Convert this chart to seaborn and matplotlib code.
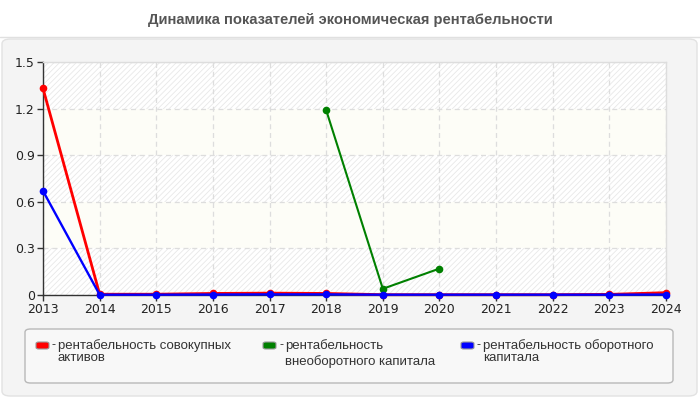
import matplotlib
matplotlib.use("Agg")
import matplotlib.pyplot as plt
import seaborn as sns
import numpy as np
import pandas as pd
from matplotlib.patches import FancyBboxPatch
from matplotlib.lines import Line2D

years = [2013, 2014, 2015, 2016, 2017, 2018, 2019, 2020, 2021, 2022, 2023, 2024]
red_vals = [1.33, 0.005, 0.005, 0.01, 0.012, 0.01, 0.002, 0.002, 0.002, 0.002, 0.004, 0.015]
green_vals = [np.nan, np.nan, np.nan, np.nan, np.nan, 1.19, 0.04, 0.17, np.nan, np.nan, np.nan, np.nan]
blue_vals = [0.67, 0.002, 0.002, 0.003, 0.004, 0.004, 0.002, 0.002, 0.002, 0.002, 0.002, 0.003]
series_names = ["рентабельность совокупных\nактивов",
                "рентабельность\nвнеоборотного капитала",
                "рентабельность оборотного\nкапитала"]
series_colors = ["#ff0000", "#008000", "#0000ff"]
y_ticks = [0, 0.3, 0.6, 0.9, 1.2, 1.5]
y_labels = ["0", "0.3", "0.6", "0.9", "1.2", "1.5"]
title = "Динамика показателей экономическая рентабельности"

sns.set_theme(style="white")
plt.rcParams['font.family'] = ['DejaVu Sans']
plt.rcParams['hatch.linewidth'] = 0.6
plt.rcParams['hatch.color'] = '#e6e6e6'

fig = plt.figure(figsize=(7, 4), dpi=100)
fig.patch.set_facecolor("white")

# outer panel
panel = FancyBboxPatch((2/700, 4/400), 695/700, 357/400, transform=fig.transFigure,
                       boxstyle="round,pad=0,rounding_size=0.012", facecolor="#f4f4f4",
                       edgecolor="#e2e2e2", linewidth=1, zorder=-2)
fig.patches.append(panel)
fig.add_artist(Line2D([0, 1], [1 - 37/400, 1 - 37/400], transform=fig.transFigure,
                      color="#e0e0e0", linewidth=1, zorder=-1))
fig.text(0.5, 1 - 20/400, title, ha="center", va="center", fontsize=10.6,
         fontweight="bold", color="#555555", family=["Liberation Sans", "DejaVu Sans"])

ax = fig.add_axes([43/700, 1 - 295/400, (666 - 43)/700, (295 - 62)/400])
ax.set_zorder(1)
ax.set_facecolor("white")
for i in range(5):
    lo, hi = y_ticks[i], y_ticks[i + 1]
    if i % 2 == 0:
        ax.axhspan(lo, hi, facecolor="white", hatch="//////", edgecolor="#e8e8e8", linewidth=0, zorder=0)
    else:
        ax.axhspan(lo, hi, facecolor="#fdfdf7", linewidth=0, zorder=0)

df = pd.DataFrame({"year": years, "r": red_vals, "g": green_vals, "b": blue_vals})
widths = [2.0, 1.5, 1.7]
for col, c, lw in zip(["r", "g", "b"], series_colors, widths):
    sub = df[["year", col]].dropna()
    sns.lineplot(data=sub, x="year", y=col, ax=ax, color=c, linewidth=lw, marker="o",
                 markersize=5.5, markeredgewidth=0, clip_on=False, zorder=3)

ax.set_xlim(2013, 2024)
ax.set_ylim(0, 1.5)
ax.set_xticks(years)
ax.set_xticklabels([str(y) for y in years])
ax.set_yticks(y_ticks)
ax.set_yticklabels(y_labels)
ax.set_xlabel("")
ax.set_ylabel("")
ax.grid(True, linestyle=(0, (4, 3)), color="#dddddd", linewidth=0.9, zorder=1)
ax.set_axisbelow(True)
ax.tick_params(axis="both", which="both", direction="out", length=4, width=1,
               color="#333333", labelsize=9, labelcolor="#222222", pad=2,
               bottom=True, left=True)
for s in ["top", "right"]:
    ax.spines[s].set_color("#dddddd")
    ax.spines[s].set_linewidth(1)
for s in ["left", "bottom"]:
    ax.spines[s].set_color("#333333")
    ax.spines[s].set_linewidth(1)

# legend box
lb = FancyBboxPatch((25/700, 1 - 383/400), (673 - 25)/700, (383 - 329)/400, transform=fig.transFigure,
                    boxstyle="round,pad=0,rounding_size=0.008", facecolor="#f8f8f8",
                    edgecolor="#b8b8b8", linewidth=1, zorder=1)
fig.patches.append(lb)
col_x = [36, 263, 461]
for i, (name, c) in enumerate(zip(series_names, series_colors)):
    x0 = col_x[i]
    sw = FancyBboxPatch((x0/700, 1 - 349/400), 13/700, 7/400, transform=fig.transFigure,
                        boxstyle="round,pad=0,rounding_size=0.004", facecolor=c,
                        edgecolor="#999999", linewidth=0.8, zorder=2)
    fig.patches.append(sw)
    fig.text((x0 + 16)/700, 1 - 345/400, "-", ha="left", va="center", fontsize=9,
             color="#333333", family=["Liberation Sans", "DejaVu Sans"])
    ls = 1.35 if i == 1 else 1.0
    fig.text((x0 + 22)/700, 1 - 339/400, name, ha="left", va="top", fontsize=9.5,
             color="#333333", linespacing=ls,
             family=["Liberation Sans", "DejaVu Sans"])

fig.savefig("out.png", dpi=100)
